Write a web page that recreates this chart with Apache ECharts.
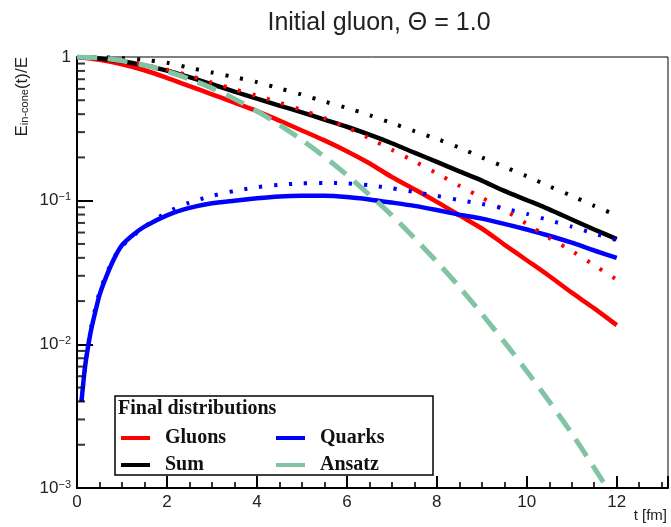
<!DOCTYPE html>
<html><head><meta charset="utf-8">
<script src="https://cdn.jsdelivr.net/npm/echarts@6/dist/echarts.min.js"></script>
<style>html,body{margin:0;padding:0;background:#fff}#c{width:671px;height:527px}</style>
</head><body><div id="c"></div>
<script>
// ---- data ----
const tGrid = [0,0.5,1,1.5,2,2.5,3,3.5,4,4.5,5,5.5,6,6.5,7,7.5,8,8.5,9,9.5,10,10.5,11,11.5,12];
const gluons = [1,0.955,0.891,0.809,0.716,0.627,0.55,0.481,0.42,0.361,0.308,0.263,0.221,0.182,0.146,0.12,0.098,0.079,0.064,0.0495,0.0385,0.0299,0.0229,0.0178,0.0136];
const sum = [1,0.977,0.933,0.875,0.804,0.724,0.646,0.575,0.513,0.459,0.412,0.367,0.327,0.288,0.251,0.216,0.186,0.160,0.138,0.117,0.101,0.087,0.074,0.063,0.054];
const ansatz = [1,0.984,0.941,0.876,0.795,0.703,0.607,0.511,0.42,0.337,0.264,0.202,0.151,0.11,0.079,0.055,0.0376,0.0251,0.0163,0.0104,0.0065,0.004,0.0024,0.00138,0.00079];
const gluonsDotted = [1,0.982,0.944,0.881,0.817,0.741,0.664,0.596,0.537,0.481,0.427,0.376,0.324,0.272,0.226,0.188,0.155,0.127,0.105,0.086,0.069,0.055,0.0447,0.0355,0.0282];
const sumDotted = [1,0.995,0.982,0.955,0.912,0.841,0.78,0.724,0.668,0.605,0.547,0.49,0.442,0.394,0.347,0.305,0.269,0.234,0.2,0.172,0.148,0.126,0.108,0.092,0.079];
const tQuark = [0.1,0.15,0.2,0.3,0.4,0.5,0.6,0.8,1,1.25,1.5,2,2.5,3,3.5,4,4.5,5,5.5,6,6.5,7,7.5,8,8.5,9,9.5,10,10.5,11,11.5,12];
const quarks = [0.0040,0.0058,0.0078,0.012,0.0165,0.022,0.027,0.038,0.049,0.058,0.066,0.079,0.089,0.096,0.100,0.104,0.107,0.108,0.108,0.106,0.102,0.097,0.092,0.086,0.080,0.075,0.069,0.063,0.057,0.051,0.045,0.040];
const quarksDotted = [0.0040,0.0058,0.0078,0.0125,0.0175,0.023,0.028,0.039,0.048,0.057,0.066,0.083,0.097,0.108,0.117,0.124,0.129,0.132,0.133,0.132,0.128,0.122,0.115,0.108,0.101,0.095,0.088,0.081,0.073,0.066,0.059,0.053];
const yMinorTicks = [0.002,0.003,0.004,0.005,0.006,0.007,0.008,0.009,
                     0.02,0.03,0.04,0.05,0.06,0.07,0.08,0.09,
                     0.2,0.3,0.4,0.5,0.6,0.7,0.8,0.9];
const titleText = 'Initial gluon, \u0398 = 1.0';
const xName = 't [fm]';
const legendTitle = 'Final distributions';

const pairs = (xs, ys) => xs.map((x, i) => [x, ys[i]]);
const SANS = 'Liberation Sans';
const SERIF = 'Liberation Serif';
const RED = '#ff0000', BLUE = '#0000ff', BLACK = '#000000', GREEN = '#80c4a4';
const dotted = [3, 12];

const chart = echarts.init(document.getElementById('c'), null, {renderer: 'canvas'});

function legendAt(name, left, top) {
  return {
    data: [name], left: left, top: top, padding: 0, z: 30,
    icon: 'rect', itemWidth: 29, itemHeight: 4, selectedMode: false,
    textStyle: {fontFamily: SERIF, fontWeight: 'bold', fontSize: 20, color: '#111', padding: [0, 0, 0, 10]}
  };
}

chart.setOption({
  animation: false,
  backgroundColor: '#fff',
  title: {
    text: titleText, left: 374, top: 6, textAlign: 'center',
    textStyle: {fontFamily: SANS, fontWeight: 'normal', fontSize: 25, color: '#222'}
  },
  grid: {left: 77, top: 57, right: 3, bottom: 39, show: true, borderColor: '#000', borderWidth: 1, backgroundColor: 'transparent'},
  xAxis: {
    type: 'value', min: 0, max: 13.14, interval: 2,
    name: xName, nameLocation: 'end', nameGap: -1,
    nameTextStyle: {fontFamily: SANS, fontSize: 15, color: '#222', align: 'right', verticalAlign: 'top', padding: [20, 0, 0, 0]},
    axisLine: {lineStyle: {color: '#000', width: 2}},
    axisTick: {show: true, inside: true, length: 12, lineStyle: {color: '#000', width: 2}},
    minorTick: {show: true, splitNumber: 4, length: 6, lineStyle: {color: '#000', width: 1.6}},
    axisLabel: {showMaxLabel: false, margin: 6, fontFamily: SANS, fontSize: 17, color: '#222'},
    splitLine: {show: false}
  },
  yAxis: {
    type: 'log', logBase: 10, min: 0.001, max: 1,
    axisLine: {lineStyle: {color: '#000', width: 2}},
    axisTick: {show: true, inside: true, length: 16, lineStyle: {color: '#000', width: 2}},
    axisLabel: {
      margin: 6, fontFamily: SANS, fontSize: 17, color: '#222',
      formatter: function (v) {
        const e = Math.round(Math.log10(v));
        if (e === 0) return '1';
        return '10{s|' + (e < 0 ? '\u2212' : '') + Math.abs(e) + '}';
      },
      rich: {s: {fontFamily: SANS, fontSize: 11, color: '#222', verticalAlign: 'top', padding: [0, 0, 7, 0]}}
    },
    splitLine: {show: false}
  },
  legend: [
    legendAt('Gluons', 121, 428),
    legendAt('Quarks', 276, 428),
    legendAt('Sum', 121, 455),
    legendAt('Ansatz', 276, 455)
  ],
  graphic: [
    {type: 'rect', z: 1, shape: {x: 115, y: 396, width: 318, height: 79},
     style: {fill: '#fff', stroke: '#000', lineWidth: 1.5}},
    {type: 'text', z: 31, x: 118, y: 409,
     style: {text: legendTitle, fontFamily: SERIF, fontWeight: 'bold', fontSize: 20, fill: '#111', align: 'left', verticalAlign: 'middle'}},
    {type: 'text', z: 31, x: 22, y: 57, rotation: Math.PI / 2,
     style: {text: 'E{sub|in-cone}(t)/E', fontFamily: SANS, fontSize: 17, fill: '#222', align: 'right', verticalAlign: 'middle',
       rich: {sub: {fontFamily: SANS, fontSize: 11, fill: '#222', verticalAlign: 'bottom', padding: [6, 0, 0, 0]}}}}
  ],
  series: [
    {name: 'Gluons', type: 'line', data: pairs(tGrid, gluons), showSymbol: false, symbol: 'none', smooth: 0.3,
     lineStyle: {color: RED, width: 4.5}, itemStyle: {color: RED}, z: 3},
    {name: 'Quarks', type: 'line', data: pairs(tQuark, quarks), showSymbol: false, symbol: 'none', smooth: 0.2,
     lineStyle: {color: BLUE, width: 4.5}, itemStyle: {color: BLUE}, z: 4},
    {name: 'Sum', type: 'line', data: pairs(tGrid, sum), showSymbol: false, symbol: 'none', smooth: 0.3,
     lineStyle: {color: BLACK, width: 4.5}, itemStyle: {color: BLACK}, z: 3},
    {name: 'Gluons (dotted)', type: 'line', data: pairs(tGrid, gluonsDotted), showSymbol: false, symbol: 'none', smooth: 0.3,
     lineStyle: {color: RED, width: 4, type: dotted, cap: 'butt'}, itemStyle: {color: RED}, z: 5},
    {name: 'Quarks (dotted)', type: 'line', data: pairs(tQuark, quarksDotted), showSymbol: false, symbol: 'none', smooth: 0.2,
     lineStyle: {color: BLUE, width: 4, type: dotted, cap: 'butt'}, itemStyle: {color: BLUE}, z: 5},
    {name: 'Sum (dotted)', type: 'line', data: pairs(tGrid, sumDotted), showSymbol: false, symbol: 'none', smooth: 0.3,
     lineStyle: {color: BLACK, width: 4, type: dotted, cap: 'butt'}, itemStyle: {color: BLACK}, z: 5},
    {name: 'Ansatz', type: 'line', data: pairs(tGrid, ansatz), showSymbol: false, symbol: 'none', smooth: 0.3,
     lineStyle: {color: GREEN, width: 5, type: [20, 11], cap: 'butt'}, itemStyle: {color: GREEN}, z: 6},
    {name: 'yMinor', type: 'scatter', silent: true, z: 10,
     data: yMinorTicks.map(v => [0, v]),
     symbol: 'rect', symbolSize: [8, 2], symbolOffset: [4, 0],
     itemStyle: {color: '#000'}, emphasis: {disabled: true}}
  ]
});
</script>
</body></html>
